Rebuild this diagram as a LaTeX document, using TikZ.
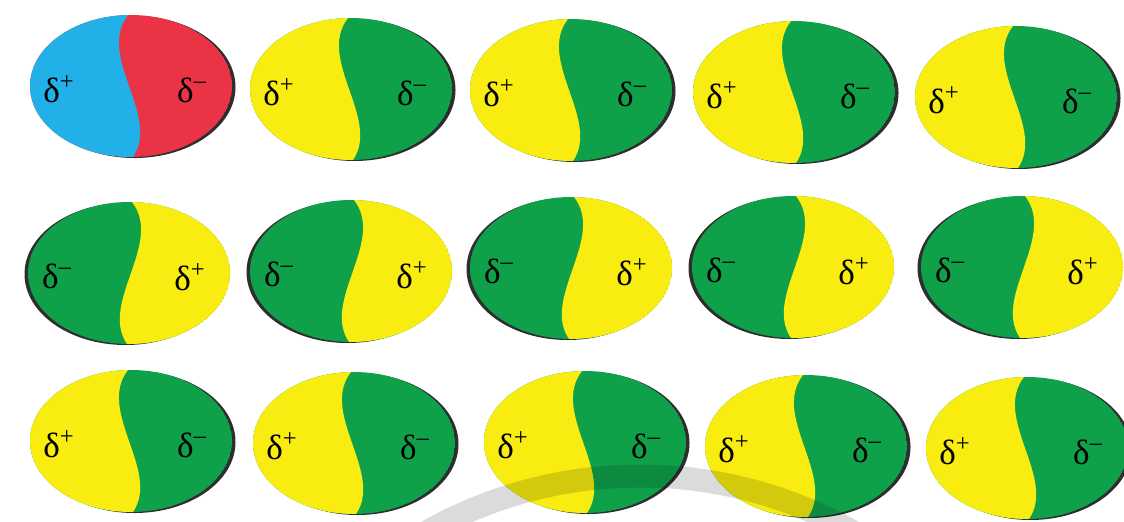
\documentclass[tikz,border=0pt]{standalone}
\usepackage{fontspec}
\setmainfont{Liberation Serif}
\usepackage{xcolor}
\usepackage{tikz}
\definecolor{molblue}{HTML}{22B0E8}
\definecolor{molred}{HTML}{EA3345}
\definecolor{molyellow}{HTML}{F8EC10}
\definecolor{molgreen}{HTML}{0FA14A}
\definecolor{molrim}{HTML}{2E2E2E}
\tikzset{
  charge/.style={font=\fontsize{20}{22}\selectfont, text=black, inner sep=0pt},
  rim/.style={fill=molrim},
  wmark/.style={draw=black, opacity=0.14, line width=0.46cm},
}
\newcommand{\dplus}{δ\textsuperscript{+}}
\newcommand{\dminus}{δ\textsuperscript{–}}
% #1 name, #2 centre, #3 left colour, #4 right colour, #5 flip (1 or -1), #6 left text, #7 right text
\newcommand{\dipole}[7]{%
  \begin{scope}[shift={#2}]
    \begin{scope}[xscale=#5]
      \fill[rim] (3.5,1) ellipse [x radius=101, y radius=71];
      \begin{scope}
        \clip (0,0) ellipse [x radius=101, y radius=71];
        \fill[#4] (0,0) ellipse [x radius=101, y radius=71];
        \fill[#3] (-3,-80) -- (-3,-71) .. controls (-35,-30) and (30,30) .. (2,71)
          -- (2,80) -- (-110,80) -- (-110,-80) -- cycle;
      \end{scope}
    \end{scope}
    \node[charge] (#1-l) at (-72,3) {#6};
    \node[charge] (#1-r) at (61,4) {#7};
  \end{scope}}

\begin{document}
\begin{tikzpicture}[x=0.02cm, y=-0.02cm]
\useasboundingbox (0,0) rectangle (1124,521);

%% row 1
\dipole{a1}{(131,86)}{molblue}{molred}{1}{\dplus}{\dminus}
\dipole{a2}{(351,89)}{molyellow}{molgreen}{1}{\dplus}{\dminus}
\dipole{a3}{(571,90)}{molyellow}{molgreen}{1}{\dplus}{\dminus}
\dipole{a4}{(794,92)}{molyellow}{molgreen}{1}{\dplus}{\dminus}
\dipole{a5}{(1016,97)}{molyellow}{molgreen}{1}{\dplus}{\dminus}

%% row 2 (flipped)
\dipole{b1}{(129,273)}{molyellow}{molgreen}{-1}{\dminus}{\dplus}
\dipole{b2}{(351,271)}{molyellow}{molgreen}{-1}{\dminus}{\dplus}
\dipole{b3}{(571,268)}{molyellow}{molgreen}{-1}{\dminus}{\dplus}
\dipole{b4}{(793,267)}{molyellow}{molgreen}{-1}{\dminus}{\dplus}
\dipole{b5}{(1022,267)}{molyellow}{molgreen}{-1}{\dminus}{\dplus}

%% row 3
\dipole{c1}{(131,441)}{molyellow}{molgreen}{1}{\dplus}{\dminus}
\dipole{c2}{(354,443)}{molyellow}{molgreen}{1}{\dplus}{\dminus}
\dipole{c3}{(585,442)}{molyellow}{molgreen}{1}{\dplus}{\dminus}
\dipole{c4}{(806,446)}{molyellow}{molgreen}{1}{\dplus}{\dminus}
\dipole{c5}{(1027,448)}{molyellow}{molgreen}{1}{\dplus}{\dminus}

%% faint ring at the bottom
\begin{scope}
  \clip (0,0) rectangle (1124,521);
  \draw[wmark] (640,910) circle [radius=434];
\end{scope}
\end{tikzpicture}
\end{document}
